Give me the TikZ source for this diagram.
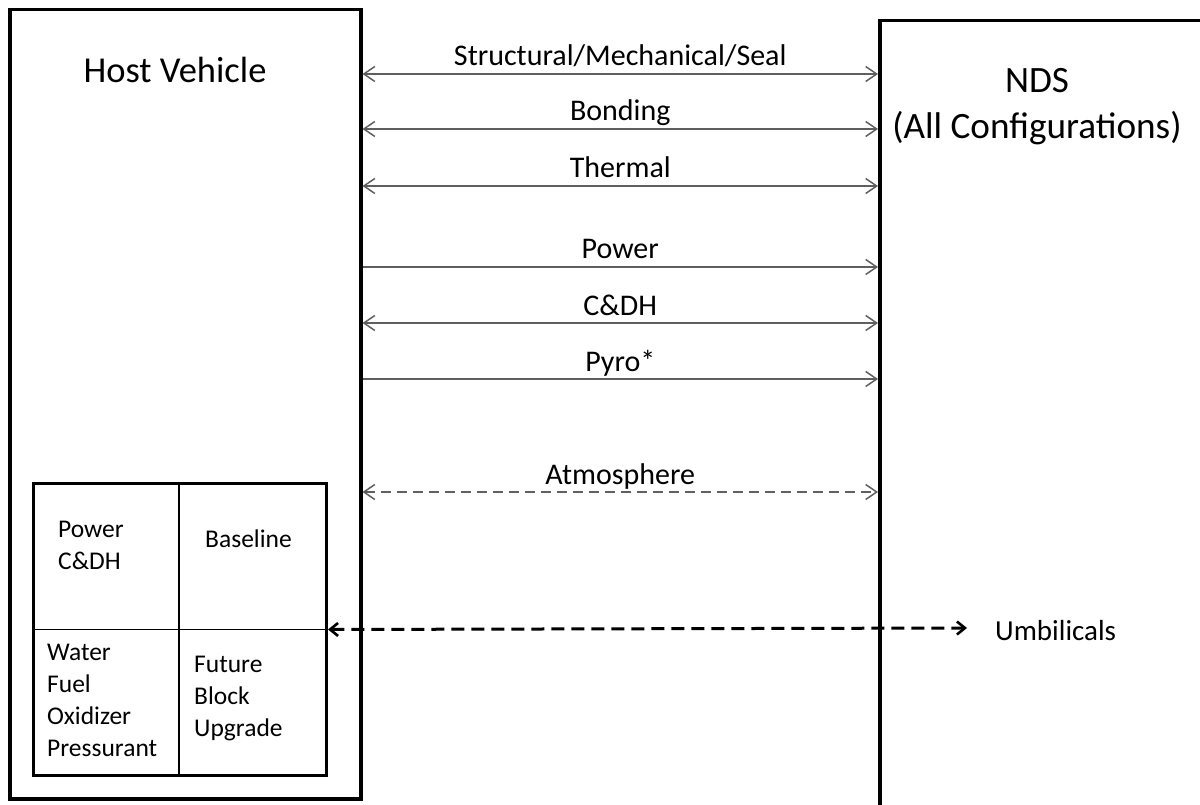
\documentclass[tikz,border=0pt]{standalone}
\usepackage{fontspec}
\setmainfont{Carlito}
\usetikzlibrary{arrows.meta}
\definecolor{linkgray}{RGB}{95,95,95}
\begin{document}
\begin{tikzpicture}[x=1pt,y=-1pt,
  box/.style={draw=black,line width=3.5pt,inner sep=0pt,anchor=north west},
  inbox/.style={draw=black,line width=3pt,inner sep=0pt,anchor=north west},
  divider/.style={draw=black,line width=1.3pt},
  link/.style={draw=linkgray,line width=1.8pt},
  bothway/.style={link,{Straight Barb[length=11pt,width=15pt,line width=1.5pt]}-{Straight Barb[length=11pt,width=15pt,line width=1.5pt]}},
  oneway/.style={link,-{Straight Barb[length=11pt,width=15pt,line width=1.5pt]}},
  atmos/.style={bothway,dash pattern=on 10pt off 6pt},
  umbil/.style={draw=black,line width=3pt,dash pattern=on 13pt off 7pt,
     {Straight Barb[length=8pt,width=13pt,line width=2.6pt]}-{Straight Barb[length=8pt,width=13pt,line width=2.6pt]}},
  lab/.style={font=\fontsize{30}{36}\selectfont,anchor=base,inner sep=0pt,yshift=8pt},
  title/.style={font=\fontsize{36.5}{45}\selectfont,inner sep=0pt,anchor=base},
  ndsfont/.style={font=\fontsize{37.2}{46}\selectfont,inner sep=0pt},
  small/.style={font=\fontsize{25.5}{32}\selectfont,inner sep=0pt,anchor=base west}
]
\useasboundingbox (0,0) rectangle (1200,805);
\clip (0,0) rectangle (1200,805);

% main boxes
\node[box,minimum width=351pt,minimum height=789pt] (host) at (8,8) {};
\node[box,minimum width=420pt,minimum height=840pt] (nds) at (878,19) {};

% titles
\node[title] (hosttitle) at (175,83) {Host Vehicle};
\node[ndsfont,anchor=base] (ndstitle) at (1037,93)
  {\begin{tabular}[t]{@{}c@{}}NDS\\(All Configurations)\end{tabular}};

% inner table box
\node[inbox,minimum width=293pt,minimum height=292pt] (inner) at (32,482) {};
\coordinate (vtop) at (179,482);
\coordinate (vbot) at (179,774);
\draw[divider] (vtop) -- (vbot);
\draw[divider] (inner.west) -- (inner.east);

\node[small] (pc) at (58,537) {\begin{tabular}[t]{@{}l@{}}Power\\C\&DH\end{tabular}};
\node[small] (base) at (205,547) {Baseline};
\node[small] (wfop) at (47,660) {\begin{tabular}[t]{@{}l@{}}Water\\Fuel\\Oxidizer\\Pressurant\end{tabular}};
\node[small] (fbu) at (194,672) {\begin{tabular}[t]{@{}l@{}}Future\\Block\\Upgrade\end{tabular}};

% interface connectors
\draw[bothway] (host.east |- 0,74) -- (nds.west |- 0,74)
  node[lab,midway] (l1) {Structural/Mechanical/Seal};
\draw[bothway] (host.east |- 0,129) -- (nds.west |- 0,129)
  node[lab,midway] (l2) {Bonding};
\draw[bothway] (host.east |- 0,186) -- (nds.west |- 0,186)
  node[lab,midway] (l3) {Thermal};
\draw[oneway] (host.east |- 0,267) -- (nds.west |- 0,267)
  node[lab,midway] (l4) {Power};
\draw[bothway] (host.east |- 0,323) -- (nds.west |- 0,323)
  node[lab,midway] (l5) {C\&DH};
\draw[oneway] (host.east |- 0,379) -- (nds.west |- 0,379)
  node[lab,midway] (l6) {Pyro*};
\draw[atmos] (host.east |- 0,492) -- (nds.west |- 0,492)
  node[lab,midway] (l7) {Atmosphere};

% umbilicals
\coordinate (umbend) at (967,628);
\draw[umbil] (inner.east) -- (umbend);
\node[font=\fontsize{29}{35}\selectfont,inner sep=0pt,anchor=base west] (umblab) at (995,640) {Umbilicals};
\end{tikzpicture}
\end{document}
